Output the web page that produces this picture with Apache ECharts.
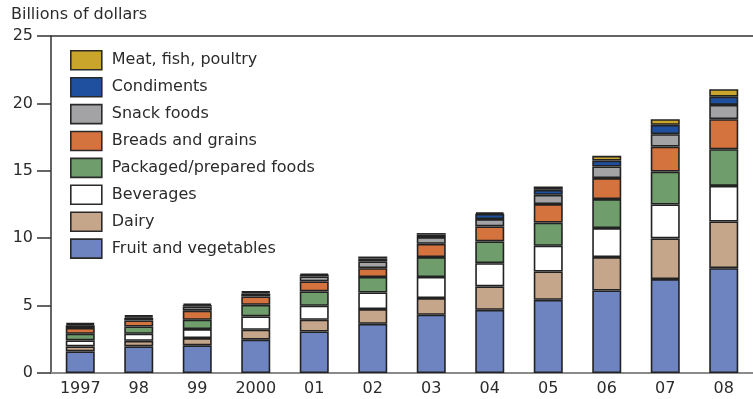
<!DOCTYPE html>
<html>
<head>
<meta charset="utf-8">
<script src="https://cdn.jsdelivr.net/npm/echarts@6/dist/echarts.min.js"></script>
<style>html,body{margin:0;padding:0;background:#fff;}#c{width:753px;height:399px;}</style>
</head>
<body>
<div id="c"></div>
<script>
const categories = ['1997','98','99','2000','01','02','03','04','05','06','07','08'];
const fruit      = [1.60, 1.97, 2.05, 2.47, 3.08, 3.65, 4.32, 4.69, 5.43, 6.12, 6.97, 7.78];
const dairy      = [0.37, 0.42, 0.54, 0.74, 0.87, 1.09, 1.24, 1.73, 2.10, 2.48, 3.01, 3.46];
const beverages  = [0.45, 0.52, 0.67, 0.99, 1.04, 1.23, 1.56, 1.73, 1.91, 2.15, 2.52, 2.64];
const packaged   = [0.49, 0.54, 0.69, 0.86, 1.06, 1.15, 1.48, 1.61, 1.72, 2.15, 2.44, 2.72];
const breads     = [0.43, 0.45, 0.67, 0.62, 0.74, 0.66, 0.98, 1.11, 1.37, 1.56, 1.86, 2.23];
const snack      = [0.20, 0.20, 0.30, 0.22, 0.37, 0.49, 0.50, 0.55, 0.69, 0.86, 0.92, 1.06];
const condiments = [0.10, 0.10, 0.12, 0.10, 0.12, 0.22, 0.18, 0.39, 0.37, 0.44, 0.69, 0.61];
const meat       = [0.07, 0.07, 0.10, 0.05, 0.08, 0.15, 0.12, 0.10, 0.24, 0.35, 0.42, 0.55];
const yTicks = [0, 5, 10, 15, 20, 25];

const seriesDefs = [
  ['Fruit and vegetables', fruit, '#6d84c1'],
  ['Dairy', dairy, '#c6a68a'],
  ['Beverages', beverages, '#ffffff'],
  ['Packaged/prepared foods', packaged, '#6f9e6c'],
  ['Breads and grains', breads, '#d5733e'],
  ['Snack foods', snack, '#a3a3a6'],
  ['Condiments', condiments, '#1f50a0'],
  ['Meat, fish, poultry', meat, '#c9a52c']
];
const FONT = 'DejaVu Sans';
const chart = echarts.init(document.getElementById('c'), null, {renderer: 'canvas'});
chart.setOption({
  animation: false,
  backgroundColor: '#fff',
  textStyle: {fontFamily: FONT},
  title: {
    text: 'Billions of dollars', left: 11, top: 7, padding: 0,
    textStyle: {fontFamily: FONT, fontSize: 16, fontWeight: 'normal', color: '#2b2b2b'}
  },
  legend: {
    orient: 'vertical', left: 70, top: 50, padding: 0,
    itemWidth: 31, itemHeight: 19, itemGap: 6.3, icon: 'rect',
    data: seriesDefs.map(s => s[0]).reverse(),
    itemStyle: {borderColor: '#2a2a2a', borderWidth: 1.6},
    textStyle: {fontFamily: FONT, fontSize: 16, color: '#2b2b2b', padding: [0, 0, 0, 5]}
  },
  grid: {left: 51, top: 36, width: 703, height: 337, containLabel: false},
  xAxis: [{
    type: 'category', data: categories, position: 'bottom',
    axisLine: {show: true, lineStyle: {color: '#8a8a8a', width: 2}},
    axisTick: {show: false},
    axisLabel: {fontFamily: FONT, fontSize: 16, color: '#2b2b2b', margin: 8}
  }, {
    type: 'category', data: categories, position: 'top',
    axisLine: {show: true, lineStyle: {color: '#333', width: 1.5}},
    axisTick: {show: false}, axisLabel: {show: false}
  }],
  yAxis: {
    type: 'value', min: yTicks[0], max: yTicks[yTicks.length - 1], interval: 5,
    axisLine: {show: true, lineStyle: {color: '#333', width: 1.5}},
    axisTick: {show: true, inside: false, length: 14, lineStyle: {color: '#333', width: 1.5}},
    axisLabel: {fontFamily: FONT, fontSize: 16, color: '#2b2b2b', margin: 18},
    splitLine: {show: false}
  },
  series: seriesDefs.map(s => ({
    name: s[0], type: 'bar', stack: 'total', data: s[1], barWidth: 29,
    itemStyle: {color: s[2], borderColor: '#222', borderWidth: 1.6}
  }))
});
</script>
</body>
</html>
